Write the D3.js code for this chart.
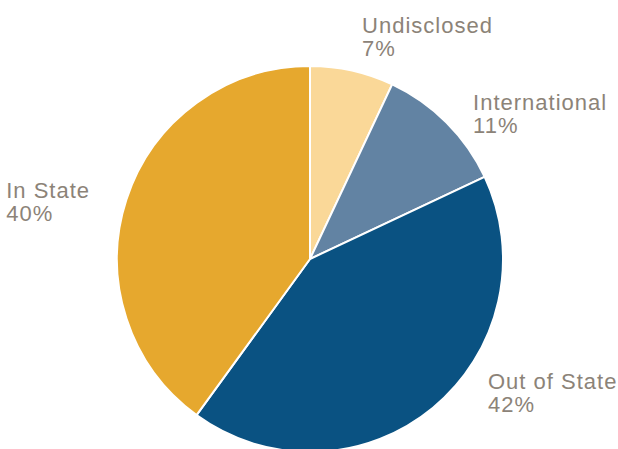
<!DOCTYPE html>
<html>
<head>
<meta charset="utf-8">
<script src="https://cdn.jsdelivr.net/npm/d3@7"></script>
<style>
  body { margin: 0; background: #fff; }
  svg { display: block; }
</style>
</head>
<body>
<svg id="chart"></svg>
<script>
const categories = ["Undisclosed", "International", "Out of State", "In State"];
const values = [7, 11, 42, 40];
const colors = ["#FAD898", "#6283A3", "#0A5282", "#E6A82E"];

const width = 618, height = 449;
const cx = 310, cy = 259, radius = 193;
const labelRadius = 225;
const maxLabelY = 394;
// small hand fixes so labels sit where the original layout put them
const labelNudge = {
  "Undisclosed": [3, -1],
  "International": [4, 15],
  "Out of State": [-2, 0],
  "In State": [-6, 14],
};

const svg = d3.select("#chart").attr("width", width).attr("height", height);

const data = categories.map((c, i) => ({ name: c, value: values[i], color: colors[i] }));

const pie = d3.pie().sort(null).value((d) => d.value);
const arc = d3.arc().innerRadius(0).outerRadius(radius);
const arcs = pie(data);

const g = svg.append("g").attr("transform", `translate(${cx},${cy})`);

g.selectAll("path")
  .data(arcs)
  .join("path")
  .attr("d", arc)
  .attr("fill", (d) => d.data.color)
  .attr("stroke", "#fff")
  .attr("stroke-width", 2);

// label anchor on a circle round the pie, pushed up if it would leave the chart
function labelPos(d) {
  const a = (d.startAngle + d.endAngle) / 2;
  let dx = labelRadius * Math.sin(a);
  let dy = -labelRadius * Math.cos(a);
  if (cy + dy > maxLabelY) {
    dy = maxLabelY - cy;
    dx = Math.sign(dx) * Math.sqrt(labelRadius * labelRadius - dy * dy);
  }
  const n = labelNudge[d.data.name] || [0, 0];
  return [dx + n[0], dy + n[1]];
}

const total = d3.sum(values);

const labels = g.selectAll("text.label")
  .data(arcs)
  .join("text")
  .attr("class", "label")
  .attr("font-family", "Liberation Sans, Arial, sans-serif")
  .attr("font-size", 22)
  .attr("letter-spacing", 1)
  .attr("fill", "#8C8378");

// every block is left aligned; blocks on the left side end at the anchor point
labels.each(function (d) {
  const [x, y] = labelPos(d);
  const t = d3.select(this);
  t.append("tspan").attr("y", y - 5).text(d.data.name);
  t.append("tspan").attr("y", y + 18)
    .text(Math.round((d.data.value / total) * 100) + "%");
  let left = x;
  if (x < 0) {
    let w = 0;
    t.selectAll("tspan").each(function () {
      w = Math.max(w, this.getComputedTextLength());
    });
    left = x - w;
  }
  t.selectAll("tspan").attr("x", left);
});
</script>
</body>
</html>
